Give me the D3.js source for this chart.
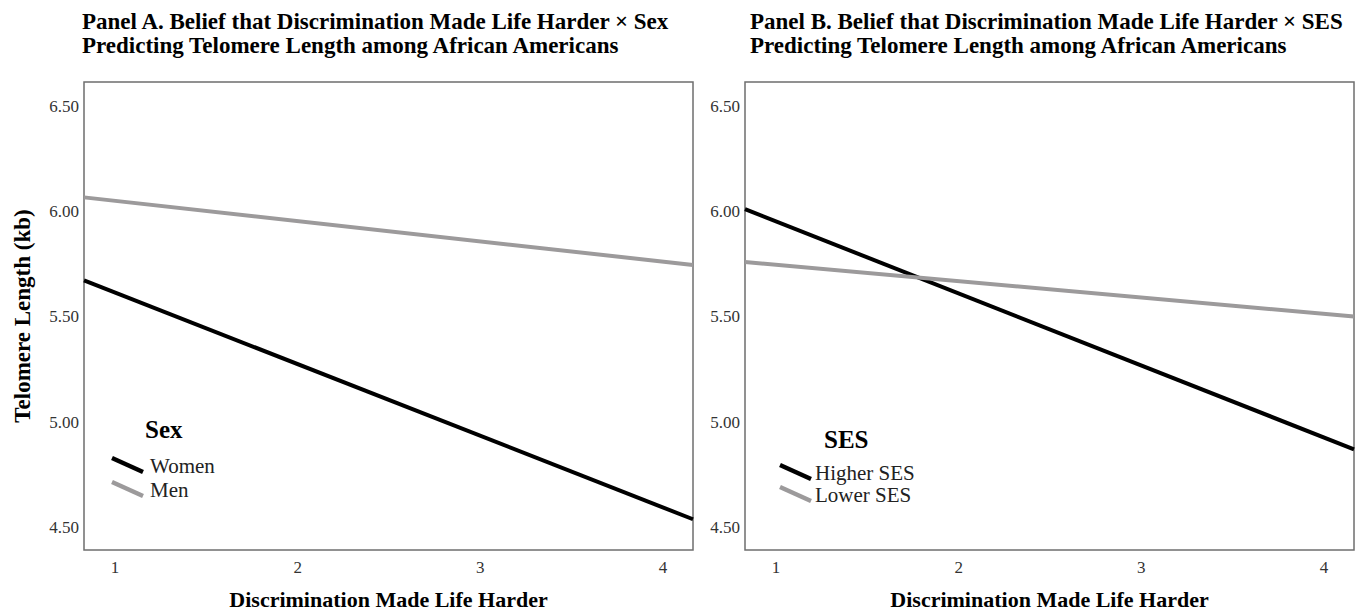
<!DOCTYPE html>
<html>
<head>
<meta charset="utf-8">
<script src="https://cdn.jsdelivr.net/npm/d3@7"></script>
<style>
  body { margin: 0; background: #fff; }
  text { font-family: "Liberation Serif", "Times New Roman", serif; }
</style>
</head>
<body>
<svg width="1363" height="616"></svg>
<script>
// Data
const xRange = [0.833, 4.167];          // x span of each plotted line
const yTicks = [4.5, 5.0, 5.5, 6.0, 6.5];
const xTicks = [1, 2, 3, 4];

const sexGroups = ["Women", "Men"];
const womenValues = [5.672, 4.537];
const menValues = [6.066, 5.745];

const sesGroups = ["Higher SES", "Lower SES"];
const higherSesValues = [6.010, 4.869];
const lowerSesValues = [5.759, 5.500];

const colors = ["#000000", "#9c9a9b"];

const svg = d3.select("svg");

const panels = [
  {
    title: ["Panel A. Belief that Discrimination Made Life Harder × Sex",
            "Predicting Telomere Length among African Americans"],
    left: 84, titleX: 82, legendTitle: "Sex", groups: sexGroups,
    series: [womenValues, menValues],
    legend: { x: 61, y: 438, sx: 28, tx: 66, row0: 473, step: 24 },
  },
  {
    title: ["Panel B. Belief that Discrimination Made Life Harder × SES",
            "Predicting Telomere Length among African Americans"],
    left: 745, titleX: 750, legendTitle: "SES", groups: sesGroups,
    series: [higherSesValues, lowerSesValues],
    legend: { x: 79, y: 448, sx: 35, tx: 70, row0: 480, step: 22 },
  },
];

const plotTop = 82, plotBottom = 550, panelW = 609;

const y = d3.scaleLinear().domain([4.391, 6.614]).range([plotBottom, plotTop]);

panels.forEach((p) => {
  const x = d3.scaleLinear().domain(xRange).range([p.left, p.left + panelW]);
  const g = svg.append("g");

  // title
  g.append("text")
    .attr("y", 29)
    .style("font-size", "23px")
    .style("font-weight", "bold")
    .selectAll("tspan")
    .data(p.title)
    .join("tspan")
    .attr("x", p.titleX)
    .attr("dy", (d, j) => (j === 0 ? 0 : 24))
    .text((d) => d);

  // frame
  g.append("rect")
    .attr("x", p.left)
    .attr("y", plotTop)
    .attr("width", panelW)
    .attr("height", plotBottom - plotTop)
    .attr("fill", "none")
    .attr("stroke", "#6e6e6e")
    .attr("stroke-width", 1.5);

  // y axis
  const yAxis = g.append("g")
    .attr("transform", `translate(${p.left},0)`)
    .call(d3.axisLeft(y).tickValues(yTicks).tickFormat(d3.format(".2f")).tickSize(0).tickPadding(5));
  yAxis.select(".domain").remove();
  yAxis.selectAll("text")
    .style("font-family", "'Liberation Serif', serif")
    .style("font-size", "17px")
    .attr("fill", "#333");

  // x axis
  const xAxis = g.append("g")
    .attr("transform", `translate(0,${plotBottom})`)
    .call(d3.axisBottom(x).tickValues(xTicks).tickFormat(d3.format("d")).tickSize(0).tickPadding(11));
  xAxis.select(".domain").remove();
  xAxis.selectAll("text")
    .style("font-family", "'Liberation Serif', serif")
    .style("font-size", "17px")
    .attr("fill", "#333");

  // x axis label
  g.append("text")
    .attr("x", p.left + panelW / 2)
    .attr("y", 607)
    .attr("text-anchor", "middle")
    .style("font-size", "22px")
    .style("font-weight", "bold")
    .text("Discrimination Made Life Harder");

  // lines
  const line = d3.line()
    .x((d, j) => x(xRange[j]))
    .y((d) => y(d));

  g.selectAll("path.series")
    .data(p.series)
    .join("path")
    .attr("class", "series")
    .attr("d", (d) => line(d))
    .attr("fill", "none")
    .attr("stroke", (d, j) => colors[j])
    .attr("stroke-width", 4);

  // legend
  const L = p.legend;
  const leg = g.append("g").attr("transform", `translate(${p.left},0)`);
  leg.append("text")
    .attr("x", L.x)
    .attr("y", L.y)
    .style("font-size", "25px")
    .style("font-weight", "bold")
    .text(p.legendTitle);

  const rows = leg.selectAll("g.row")
    .data(p.groups)
    .join("g")
    .attr("class", "row")
    .attr("transform", (d, j) => `translate(0,${L.row0 + j * L.step})`);

  rows.append("line")
    .attr("x1", L.sx)
    .attr("y1", -15)
    .attr("x2", L.sx + 31)
    .attr("y2", -1)
    .attr("stroke", (d, j) => colors[j])
    .attr("stroke-width", 4.5);

  rows.append("text")
    .attr("x", L.tx)
    .attr("y", 0)
    .style("font-size", "21px")
    .attr("fill", "#222")
    .text((d) => d);
});

// y axis title (left panel only)
svg.append("text")
  .attr("transform", `translate(30,${(plotTop + plotBottom) / 2}) rotate(-90)`)
  .attr("text-anchor", "middle")
  .style("font-size", "23px")
  .style("font-weight", "bold")
  .text("Telomere Length (kb)");
</script>
</body>
</html>
